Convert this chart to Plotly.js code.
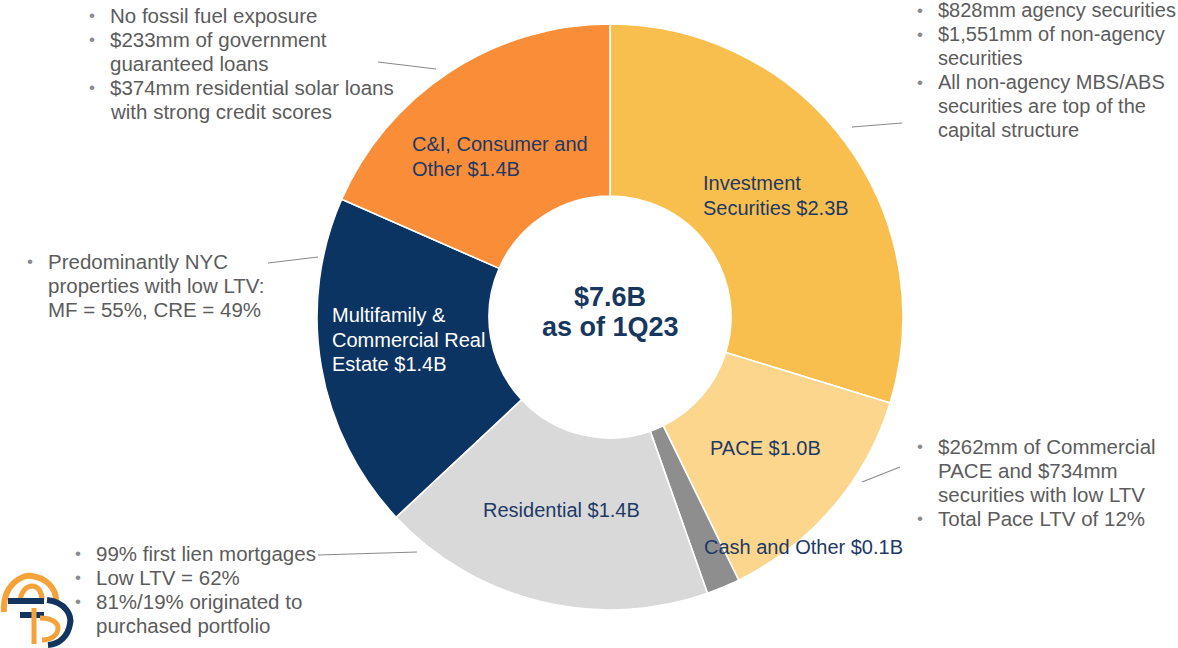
<!DOCTYPE html>
<html><head><meta charset="utf-8">
<script src="https://cdn.plot.ly/plotly-3.0.1.min.js"></script>
<style>html,body{margin:0;padding:0;background:#fff}#chart{width:1178px;height:648px}</style>
</head><body><div id="chart"></div>
<script>
// ---- data ----
const categories = ['Investment Securities', 'PACE', 'Cash and Other', 'Residential',
  'Multifamily & Commercial Real Estate', 'C&I, Consumer and Other'];
const values = [2.26, 0.99, 0.14, 1.40, 1.41, 1.40];   // $B
const sliceLabels = [
  ['Investment', 'Securities $2.3B'],
  ['PACE $1.0B'],
  ['Cash and Other $0.1B'],
  ['Residential $1.4B'],
  ['Multifamily &', 'Commercial Real', 'Estate $1.4B'],
  ['C&I, Consumer and', 'Other $1.4B']
];
const centerLines = ['$7.6B', 'as of 1Q23'];
const noteCI = [['No fossil fuel exposure'], ['$233mm of government', 'guaranteed loans'],
  ['$374mm residential solar loans', 'with strong credit scores']];
const noteInv = [['$828mm agency securities'], ['$1,551mm of non-agency', 'securities'],
  ['All non-agency MBS/ABS', 'securities are top of the', 'capital structure']];
const noteMF = [['Predominantly NYC', 'properties with low LTV:', 'MF = 55%, CRE = 49%']];
const notePACE = [['$262mm of Commercial', 'PACE and $734mm', 'securities with low LTV'],
  ['Total Pace LTV of 12%']];
const noteRes = [['99% first lien mortgages'], ['Low LTV = 62%'],
  ['81%/19% originated to', 'purchased portfolio']];

// ---- styles / layout ----
const W = 1178, H = 648;
const sliceColors = ['#F9BF4E', '#FCD68C', '#8E8E8E', '#D9D9D9', '#0C3463', '#F98D38'];
const labelColors = ['#1D3966', '#1D3966', '#1D3966', '#1D3966', '#FFFFFF', '#1D3966'];
const navy = '#17375E';
const FONT = 'Liberation Sans, Arial, sans-serif';
const labelPos = [
  {x: 701, y: 183, al: 'left'}, {x: 765, y: 448, al: 'center'}, {x: 803, y: 547, al: 'center'},
  {x: 561, y: 510, al: 'center'}, {x: 330, y: 315, al: 'left'}, {x: 410, y: 144, al: 'left'}
];
const cx = 610, cy = 317, R = 293;

const annotations = [];
const shapes = [];
function addText(x, y, text, size, color, anchor, bold) {
  annotations.push({x: x, y: y, xref: 'x', yref: 'y', text: bold ? '<b>' + text + '</b>' : text,
    showarrow: false, xanchor: anchor, yanchor: 'middle',
    font: {family: FONT, size: size, color: color}});
}
sliceLabels.forEach((lines, i) => {
  lines.forEach((ln, j) => addText(labelPos[i].x, labelPos[i].y + j * 24.5, ln, 20, labelColors[i], labelPos[i].al));
});
centerLines.forEach((ln, j) => addText(cx, 297 + j * 30, ln, 27, navy, 'center', true));

function addNote(note, bx, tx, y0, leader, size) {
  let k = 0;
  note.forEach(b => {
    addText(bx, y0 + k * 24, '•', 17, '#8A8A8A', 'center');
    b.forEach(ln => { addText(tx, y0 + k * 24, ln, size, '#5C5C5C', 'left'); k++; });
  });
  shapes.push({type: 'line', xref: 'x', yref: 'y', x0: leader[0], y0: leader[1], x1: leader[2], y1: leader[3],
    line: {color: '#8A8A8A', width: 1.2}});
}
addNote(noteCI, 92, 108, 15, [378, 62, 436, 69], 20.5);
addNote(noteInv, 920, 936, 10, [852, 127, 902, 123], 20);
addNote(noteMF, 30, 46, 261, [268, 263, 318, 257], 20.5);
addNote(notePACE, 920, 936, 446, [862, 482, 900, 467], 20.5);
addNote(noteRes, 78, 94, 553, [318, 555, 417, 552], 20.5);

// decorative logo (bottom-left)
const orange = '#F5A23A', lnavy = '#12345F';
shapes.push({type: 'path', xref: 'x', yref: 'y', path: 'M 4 612 C 2 585, 22 574, 32 576 C 46 578, 56 588, 56 600',
  line: {color: orange, width: 6}});
shapes.push({type: 'path', xref: 'x', yref: 'y', path: 'M 20 604 C 20 590, 28 586, 32 586 C 38 586, 42 592, 42 600',
  line: {color: orange, width: 5}});
shapes.push({type: 'path', xref: 'x', yref: 'y', path: 'M 8 601 L 44 601', line: {color: lnavy, width: 6}});
shapes.push({type: 'path', xref: 'x', yref: 'y', path: 'M 20 615 L 44 615', line: {color: lnavy, width: 6}});
shapes.push({type: 'path', xref: 'x', yref: 'y', path: 'M 47 600 C 66 602, 72 616, 70 624 C 68 636, 60 644, 48 645',
  line: {color: lnavy, width: 6}});
shapes.push({type: 'path', xref: 'x', yref: 'y', path: 'M 34 608 L 34 644', line: {color: orange, width: 5}});
shapes.push({type: 'path', xref: 'x', yref: 'y', path: 'M 40 618 C 54 618, 58 624, 58 628 C 58 636, 50 640, 42 640',
  line: {color: orange, width: 5}});

const trace = {
  type: 'pie', labels: categories, values: values, sort: false, direction: 'clockwise', rotation: 0,
  hole: 0.413, textinfo: 'none', hoverinfo: 'label+value', showlegend: false,
  marker: {colors: sliceColors, line: {color: '#FFFFFF', width: 1.6}},
  domain: {x: [(cx - R) / W, (cx + R) / W], y: [(H - cy - R) / H, (H - cy + R) / H]}
};
const layout = {
  width: W, height: H, margin: {l: 0, r: 0, t: 0, b: 0},
  paper_bgcolor: '#FFFFFF', plot_bgcolor: 'rgba(0,0,0,0)', showlegend: false,
  xaxis: {range: [0, W], visible: false, fixedrange: true},
  yaxis: {range: [H, 0], visible: false, fixedrange: true},
  annotations: annotations, shapes: shapes
};
Plotly.newPlot('chart', [trace], layout, {displayModeBar: false, staticPlot: true});
</script>
</body></html>
